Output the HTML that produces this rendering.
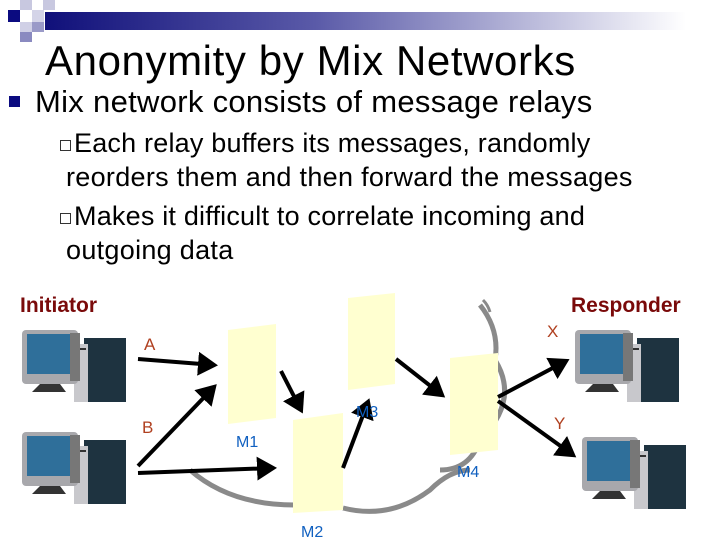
<!DOCTYPE html>
<html><head><style>
body{margin:0;width:720px;height:540px;background:#fff;overflow:hidden;position:relative;font-family:"Liberation Sans",sans-serif}
.t{position:absolute;white-space:nowrap}
</style></head><body>
<div style="position:absolute;left:45px;top:12px;width:675px;height:18px;background:linear-gradient(to right,#10107a,#5a5aa8 40%,#fff 95%)"></div>
<div style="position:absolute;left:8px;top:10px;width:12px;height:12px;background:#0b0b80"></div>
<div style="position:absolute;left:20px;top:0;width:12px;height:10px;background:#c8c8e0"></div>
<div style="position:absolute;left:32px;top:10px;width:12px;height:12px;background:#d4d4e8"></div>
<div style="position:absolute;left:43px;top:0;width:12px;height:10px;background:#c8c8e0"></div>
<div style="position:absolute;left:32px;top:22px;width:12px;height:10px;background:#9a9ac8"></div>
<div style="position:absolute;left:20px;top:22px;width:12px;height:10px;background:#d0d0e6"></div>
<div style="position:absolute;left:20px;top:32px;width:12px;height:10px;background:#8a8ac0"></div>
<div class="t" style="left:45px;top:37px;font-size:42px;letter-spacing:0.6px">Anonymity by Mix Networks</div>
<div style="position:absolute;left:9px;top:96px;width:11px;height:11px;background:#0b0b80"></div>
<div class="t" style="left:35px;top:84px;font-size:31px;letter-spacing:0.3px">Mix network consists of message relays</div>
<div style="position:absolute;left:60px;top:140px;width:9px;height:9px;border:1px solid #333"></div>
<div class="t" style="left:74px;top:128px;font-size:27px;letter-spacing:0.2px">Each relay buffers its messages, randomly</div>
<div class="t" style="left:66px;top:162px;font-size:27px;letter-spacing:0.3px">reorders them and then forward the messages</div>
<div style="position:absolute;left:60px;top:213px;width:9px;height:9px;border:1px solid #333"></div>
<div class="t" style="left:74px;top:201px;font-size:27px;letter-spacing:0.2px">Makes it difficult to correlate incoming and</div>
<div class="t" style="left:66px;top:235px;font-size:27px;letter-spacing:0.3px">outgoing data</div>
<svg width="720" height="540" style="position:absolute;left:0;top:0">
<defs>
<marker id="ar" markerWidth="6" markerHeight="6" refX="4" refY="3" orient="auto" markerUnits="strokeWidth"><path d="M0,0 L5,3 L0,6z" fill="#000"/></marker>
<g id="pc">
<rect x="62" y="8" width="42" height="64" fill="#1e3340"/>
<rect x="52" y="14" width="14" height="58" fill="#c8c8cc"/>
<rect x="54" y="18" width="10" height="2" fill="#333"/>
<rect x="0" y="0" width="56" height="54" rx="4" fill="#a8a8ac"/>
<rect x="5" y="4" width="44" height="40" fill="#2f6f9a"/>
<rect x="48" y="3" width="10" height="48" fill="#777"/>
<path d="M18,54 L38,54 L44,62 L10,62z" fill="#333"/>
</g>
</defs>
<g fill="none" stroke="#8a8a8a" stroke-width="5">
<path d="M190,470 Q230,505 295,505"/>
<path d="M343,508 Q390,520 430,490 Q450,470 470,470"/>
<path d="M480,305 Q500,330 495,360 Q520,400 480,440 Q470,470 440,470"/>
<path d="M483,300 Q488,305 490,312" stroke-width="3"/>
</g>
<g fill="#ffffd0">
<path d="M228,330 L276,324 L276,418 L228,424z"/>
<path d="M293,420 L343,413 L343,510 L293,513z"/>
<path d="M348,298 L395,293 L395,384 L348,390z"/>
<path d="M450,358 L498,353 L498,450 L450,455z"/>
</g>
<use href="#pc" x="22" y="330"/>
<use href="#pc" x="22" y="432"/>
<use href="#pc" x="575" y="330"/>
<use href="#pc" x="582" y="437"/>
<g stroke="#000" stroke-width="4" marker-end="url(#ar)" fill="none">
<line x1="138" y1="359" x2="214" y2="365"/>
<line x1="138" y1="466" x2="214" y2="387"/>
<line x1="138" y1="473" x2="273" y2="468"/>
<line x1="281" y1="371" x2="301" y2="410"/>
<line x1="343" y1="468" x2="368" y2="402"/>
<line x1="396" y1="359" x2="442" y2="395"/>
<line x1="498" y1="397" x2="566" y2="361"/>
<line x1="498" y1="401" x2="573" y2="455"/>
</g>
</svg>
<div class="t" style="left:20px;top:294px;font-size:21px;font-weight:bold;color:#7a0a0a">Initiator</div>
<div class="t" style="left:571px;top:294px;font-size:21px;font-weight:bold;color:#7a0a0a">Responder</div>
<div class="t" style="left:144px;top:335px;font-size:17px;color:#b04020">A</div>
<div class="t" style="left:142px;top:418px;font-size:17px;color:#b04020">B</div>
<div class="t" style="left:547px;top:322px;font-size:17px;color:#b04020">X</div>
<div class="t" style="left:554px;top:414px;font-size:17px;color:#b04020">Y</div>
<div class="t" style="left:236px;top:434px;font-size:16px;color:#1060c0">M1</div>
<div class="t" style="left:301px;top:524px;font-size:16px;color:#1060c0">M2</div>
<div class="t" style="left:356px;top:404px;font-size:16px;color:#1060c0">M3</div>
<div class="t" style="left:457px;top:464px;font-size:16px;color:#1060c0">M4</div>
</body></html>
